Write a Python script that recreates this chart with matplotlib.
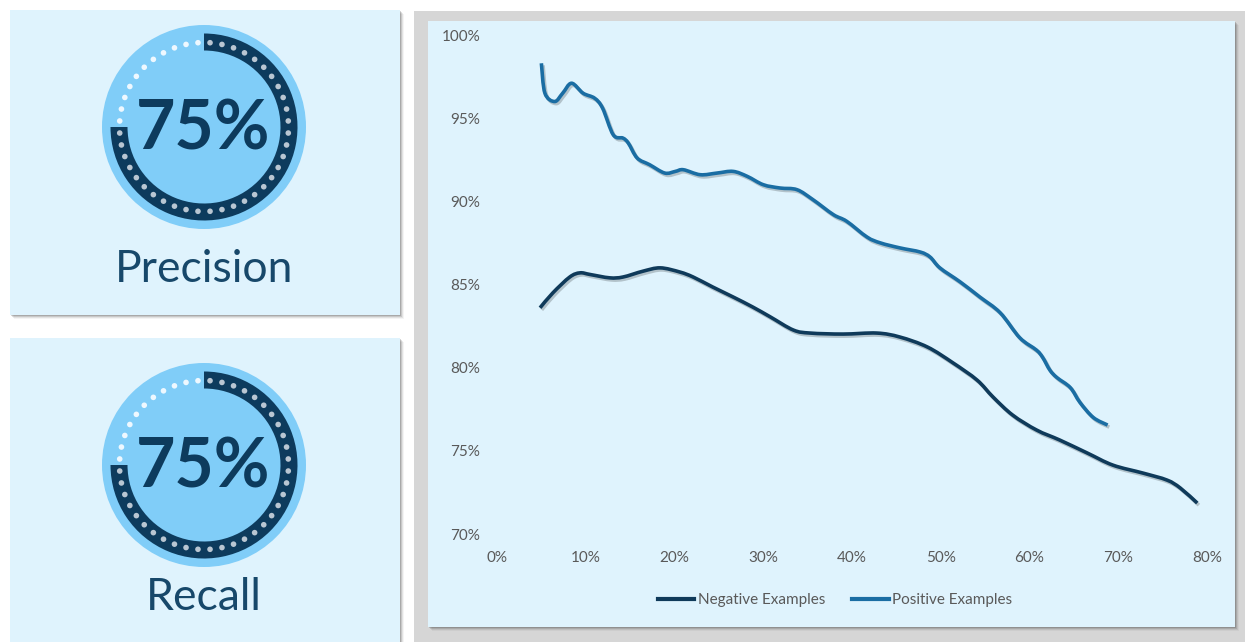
import matplotlib
matplotlib.use("Agg")
import numpy as np
import matplotlib.pyplot as plt
from matplotlib.patches import Rectangle, Circle, Wedge, PathPatch
from matplotlib.path import Path
from matplotlib.lines import Line2D
import matplotlib.patheffects as pe

plt.rcParams["font.family"] = ["Lato", "DejaVu Sans"]

W, H = 1245, 642

# KPI gauges
kpi_names = ["Precision", "Recall"]
kpi_values = [0.75, 0.75]

# Curves (x = share of examples, y = score), both in percent
neg_x = [4.85, 6.3, 8.2, 9.35, 10.5, 12.7, 14.2, 16.45, 18.4, 20.6, 22.1, 24.3,
         26.6, 28.8, 30.8, 33.4, 35.3, 39.0, 42.8, 45.4, 48.5, 51.4, 54.1, 55.9,
         58.1, 60.8, 63.4, 66.5, 69.4, 72.8, 75.5, 77.0, 78.9]
neg_y = [83.6, 84.5, 85.45, 85.7, 85.6, 85.4, 85.45, 85.8, 86.0, 85.75, 85.45, 84.85,
         84.25, 83.65, 83.05, 82.26, 82.08, 82.02, 82.08, 81.84, 81.24, 80.28, 79.25, 78.23,
         77.15, 76.25, 75.65, 74.87, 74.14, 73.66, 73.24, 72.76, 71.86]
pos_x = [5.0, 5.4, 6.5, 7.4, 8.4, 9.7, 11.0, 11.9, 13.1, 14.2, 14.8, 15.8, 17.2,
         18.9, 20.1, 21.0, 22.9, 24.8, 26.6, 28.2, 30.0, 31.9, 33.8, 35.6, 37.9,
         39.4, 41.7, 43.2, 45.4, 47.7, 48.8, 49.9, 52.2, 54.4, 56.7, 58.9, 60.8,
         61.5, 62.3, 63.1, 64.6, 65.7, 67.2, 68.8]
pos_y = [98.3, 96.5, 96.0, 96.5, 97.1, 96.5, 96.2, 95.6, 94.0, 93.8, 93.5, 92.6, 92.2,
         91.7, 91.8, 91.9, 91.6, 91.7, 91.8, 91.5, 91.0, 90.8, 90.7, 90.1, 89.2,
         88.8, 87.85, 87.5, 87.2, 86.95, 86.65, 86.0, 85.15, 84.25, 83.3, 81.8, 81.05,
         80.6, 79.85, 79.4, 78.8, 77.9, 77.0, 76.55]
series_names = ["Negative Examples", "Positive Examples"]
x_ticks = [0, 10, 20, 30, 40, 50, 60, 70, 80]
y_ticks = [70, 75, 80, 85, 90, 95, 100]

PANEL = "#dff3fd"
FRAME = "#d6d6d6"
RING_BG = "#80cdf8"
DARK = "#0d3b5d"
NEG_C = "#0f3a5a"
POS_C = "#1a6da3"
TXT = "#595959"

fig = plt.figure(figsize=(W / 100, H / 100), dpi=100, facecolor="white")

# pixel-space canvas for the panels and gauges (y grows downward)
bg = fig.add_axes([0, 0, 1, 1])
bg.set_xlim(0, W)
bg.set_ylim(H, 0)
bg.axis("off")


def panel(x0, y0, x1, y1, color):
    for off, alpha in [(4, 0.05), (3, 0.09), (2, 0.14), (1, 0.2)]:
        bg.add_patch(Rectangle((x0 + off, y0 + off), x1 - x0, y1 - y0,
                               facecolor="#303030", alpha=alpha, lw=0))
    bg.add_patch(Rectangle((x0, y0), x1 - x0, y1 - y0, facecolor=color, lw=0))


# right-hand frame and chart card
bg.add_patch(Rectangle((414, 11), W - 414, H - 11, facecolor=FRAME, lw=0))
panel(428, 21, 1235, 627, PANEL)

# KPI cards
panel(10, 10, 400, 315, PANEL)
panel(10, 338, 400, H + 10, PANEL)


def gauge(cx, cy, value, name, label_y):
    r_outer, ring_w, r_dot, n_dots = 102, 17, 84.5, 44
    bg.add_patch(Circle((cx, cy), r_outer, facecolor=RING_BG, lw=0))
    bg.add_patch(Wedge((cx, cy), 93.5, -90, -90 + 360 * value, width=ring_w,
                       facecolor=DARK, lw=0))
    for k in range(n_dots):
        frac = (k + 0.5) / n_dots
        ang = np.deg2rad(-90 + 360 * frac)
        col = "#b9c6d2" if frac < value else "#eef8ff"
        bg.add_patch(Circle((cx + r_dot * np.cos(ang), cy + r_dot * np.sin(ang)),
                            2.8, facecolor=col, lw=0))
    bg.text(cx - 1, cy + 3, f"{round(value * 100)}%", ha="center", va="center",
            fontsize=49, fontweight="bold", color=DARK)
    bg.text(cx, label_y, name, ha="center", va="center", fontsize=32,
            color="#17486a")


gauge(204, 127, kpi_values[0], kpi_names[0], 270)
gauge(204, 465, kpi_values[1], kpi_names[1], 598)


def smooth_path(xs, ys, t=0.5):
    """Cubic Bezier path through every point (Catmull-Rom style tangents)."""
    p = np.column_stack([xs, ys]).astype(float)
    verts = [p[0]]
    codes = [Path.MOVETO]
    n = len(p)
    for i in range(n - 1):
        p0 = p[i - 1] if i > 0 else p[i]
        p3 = p[i + 2] if i + 2 < n else p[i + 1]
        c1 = p[i] + (p[i + 1] - p0) * t / 3
        c2 = p[i + 1] - (p3 - p[i]) * t / 3
        verts += [c1, c2, p[i + 1]]
        codes += [Path.CURVE4] * 3
    return Path(verts, codes)


# line chart
ax = fig.add_axes([497 / W, (H - 534) / H, 710 / W, 499 / H])
ax.patch.set_alpha(0)
shadow = [pe.SimpleLineShadow(offset=(1.2, -1.5), shadow_color="#000000", alpha=0.2),
          pe.Normal()]
for xs, ys, col in [(neg_x, neg_y, NEG_C), (pos_x, pos_y, POS_C)]:
    ax.add_patch(PathPatch(smooth_path(xs, ys), facecolor="none", edgecolor=col,
                           lw=2.6, joinstyle="round", capstyle="butt",
                           path_effects=shadow))
ax.set_xlim(0, 80)
ax.set_ylim(70, 100)
ax.set_xticks(x_ticks)
ax.set_xticklabels([f"{t}%" for t in x_ticks])
ax.set_yticks(y_ticks)
ax.set_yticklabels([f"{t}%" for t in y_ticks])
ax.tick_params(length=0, pad=12, colors=TXT, labelsize=11)
for s in ax.spines.values():
    s.set_visible(False)

handles = [Line2D([], [], color=NEG_C, lw=3), Line2D([], [], color=POS_C, lw=3)]
fig.legend(handles, series_names, loc="center", bbox_to_anchor=(835 / W, 1 - 600 / H),
           ncol=2, frameon=False, handlelength=2.4, handletextpad=0.2,
           columnspacing=1.8, fontsize=11, labelcolor=TXT)

fig.savefig("out.png", dpi=100, facecolor="white")
